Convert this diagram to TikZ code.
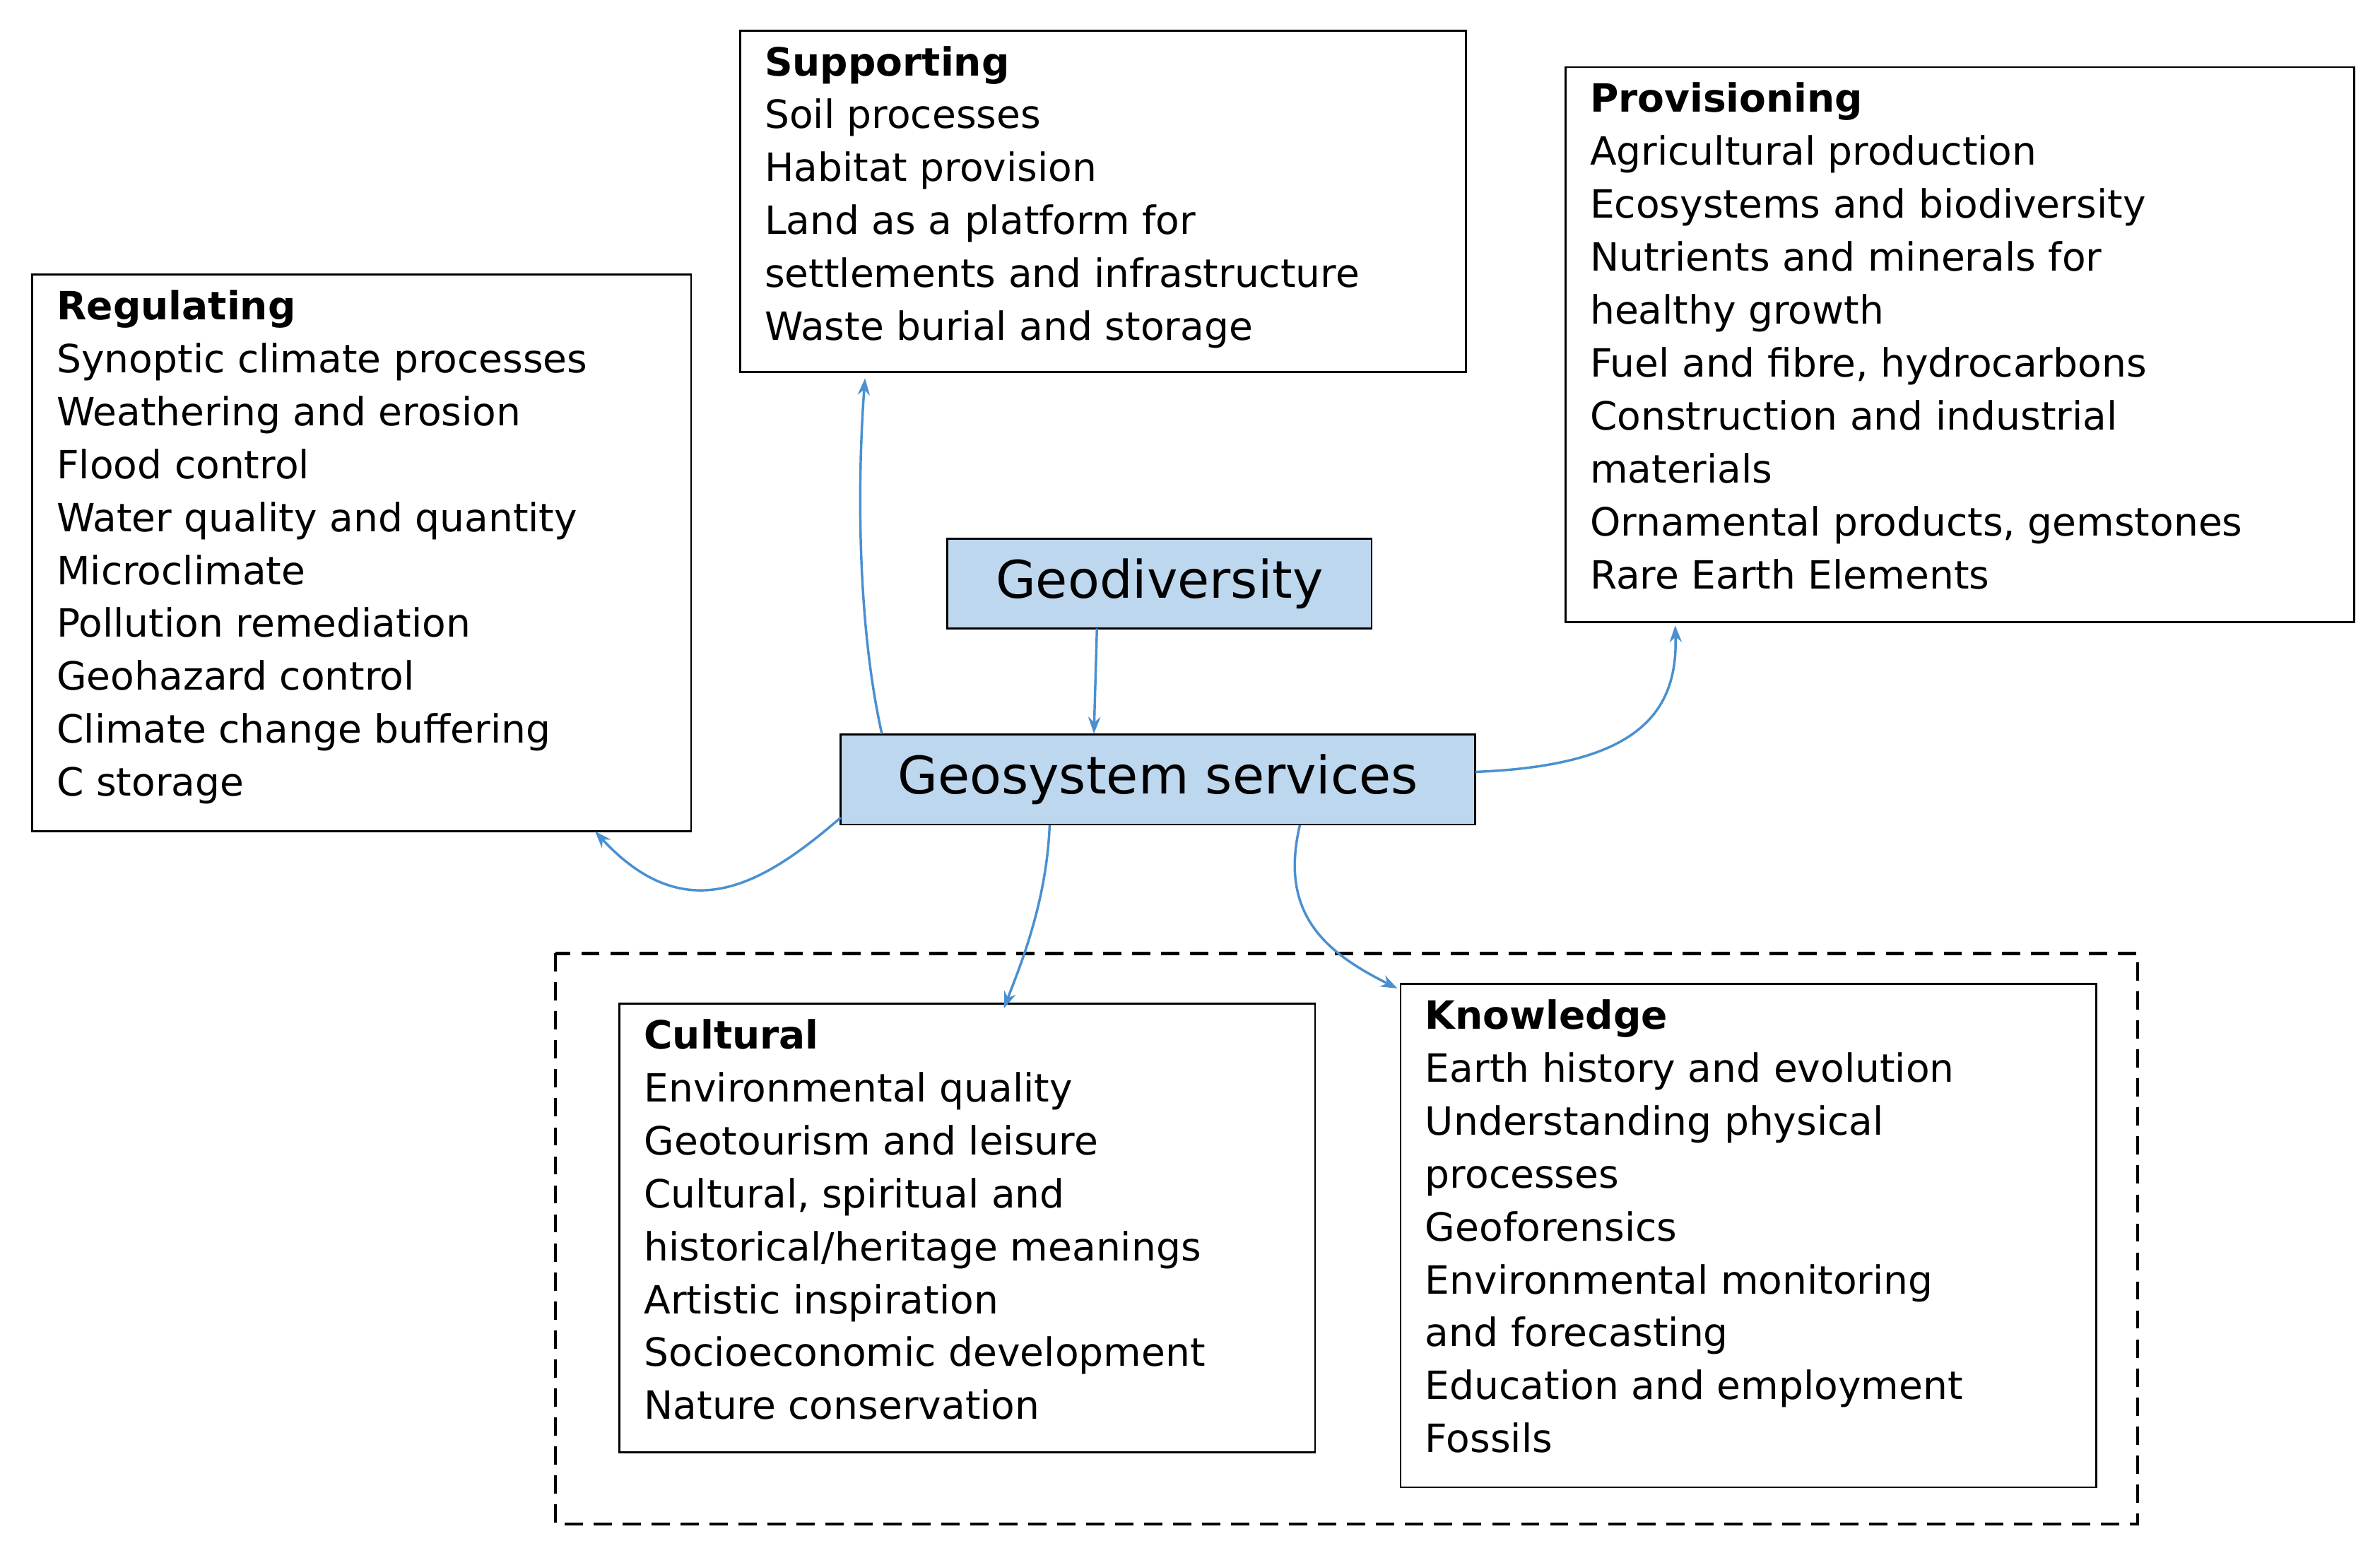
\documentclass[tikz,border=0pt]{standalone}
\usepackage{fontspec}
\setmainfont{DejaVu Sans}
\usetikzlibrary{arrows.meta}
\definecolor{boxblue}{HTML}{BDD7EE}
\definecolor{arrblue}{HTML}{4A90D0}
\begin{document}
\begin{tikzpicture}[x=1pt,y=1pt,
  frame/.style={draw=black,line width=1.3pt},
  txt/.style={anchor=north west,align=left,inner sep=0pt,font=\fontsize{25.5}{34.7}\selectfont},
  blue box/.style={draw=black,line width=1.3pt,fill=boxblue,minimum height=59pt,inner sep=0pt},
  conn/.style={draw=arrblue,line width=1.6pt,-{Stealth[length=11pt,width=8pt]}}]
\useasboundingbox (0,0) rectangle (1560,-1018);
% frames
\draw[frame] (485,-20) rectangle (961,-244);
\draw[frame] (21,-180) rectangle (453,-545);
\draw[frame] (1026,-44) rectangle (1543,-408);
\draw[frame,dashed,dash pattern=on 12pt off 7pt,line width=2pt] (364,-625) rectangle (1401,-999);
\draw[frame] (406,-658) rectangle (862,-952);
\draw[frame] (918,-645) rectangle (1374,-975);
% named box nodes for connectors
\node[inner sep=0pt,minimum width=476pt,minimum height=224pt] (sup) at (723,-132) {};
\node[inner sep=0pt,minimum width=432pt,minimum height=365pt] (reg) at (237,-362.5) {};
\node[inner sep=0pt,minimum width=517pt,minimum height=364pt] (pro) at (1284.5,-226) {};
\node[inner sep=0pt,minimum width=456pt,minimum height=294pt] (cul) at (634,-805) {};
\node[inner sep=0pt,minimum width=456pt,minimum height=330pt] (kno) at (1146,-810) {};
% texts
\node[txt] (tsup) at (501,-30) {\textbf{Supporting}\\Soil processes\\Habitat provision\\Land as a platform for\\settlements and infrastructure\\Waste burial and storage};
\node[txt] (treg) at (37,-190) {\textbf{Regulating}\\Synoptic climate processes\\Weathering and erosion\\Flood control\\Water quality and quantity\\Microclimate\\Pollution remediation\\Geohazard control\\Climate change buffering\\C storage};
\node[txt] (tpro) at (1042,-54) {\textbf{Provisioning}\\Agricultural production\\Ecosystems and biodiversity\\Nutrients and minerals for\\healthy growth\\Fuel and fibre, hydrocarbons\\Construction and industrial\\materials\\Ornamental products, gemstones\\Rare Earth Elements};
\node[txt] (tcul) at (422,-668) {\textbf{Cultural}\\Environmental quality\\Geotourism and leisure\\Cultural, spiritual and\\historical/heritage meanings\\Artistic inspiration\\Socioeconomic development\\Nature conservation};
\node[txt] (tkno) at (934,-655) {\textbf{Knowledge}\\Earth history and evolution\\Understanding physical\\processes\\Geoforensics\\Environmental monitoring\\and forecasting\\Education and employment\\Fossils};
% blue boxes
\node[blue box,minimum width=278pt,font=\fontsize{34}{40}\selectfont] (geo) at (760,-382.5) {Geodiversity};
\node[blue box,minimum width=416pt,font=\fontsize{34}{40}\selectfont] (gs) at (759,-511) {Geosystem services};
% connectors
\coordinate (a1) at (719,-412);
\coordinate (a2) at (717,-481);
\draw[conn] (a1) -- (a2);
\coordinate (b1) at (578,-481);
\coordinate (b2) at (567,-248);
\draw[conn] (b1) .. controls (560,-400) and (563,-300) .. (b2);
\coordinate (c1) at (967,-506);
\coordinate (c2) at (1098,-410);
\draw[conn] (c1) .. controls (1070,-502) and (1100,-470) .. (c2);
\coordinate (d1) at (551,-536);
\coordinate (d2) at (390,-545);
\draw[conn] (d1) .. controls (500,-580) and (450,-610) .. (d2);
\coordinate (e1) at (688,-541);
\coordinate (e2) at (658,-661);
\draw[conn] (e1) .. controls (686,-590) and (670,-630) .. (e2);
\coordinate (f1) at (852,-541);
\coordinate (f2) at (916,-648);
\draw[conn] (f1) .. controls (838,-600) and (870,-625) .. (f2);
\end{tikzpicture}
\end{document}
